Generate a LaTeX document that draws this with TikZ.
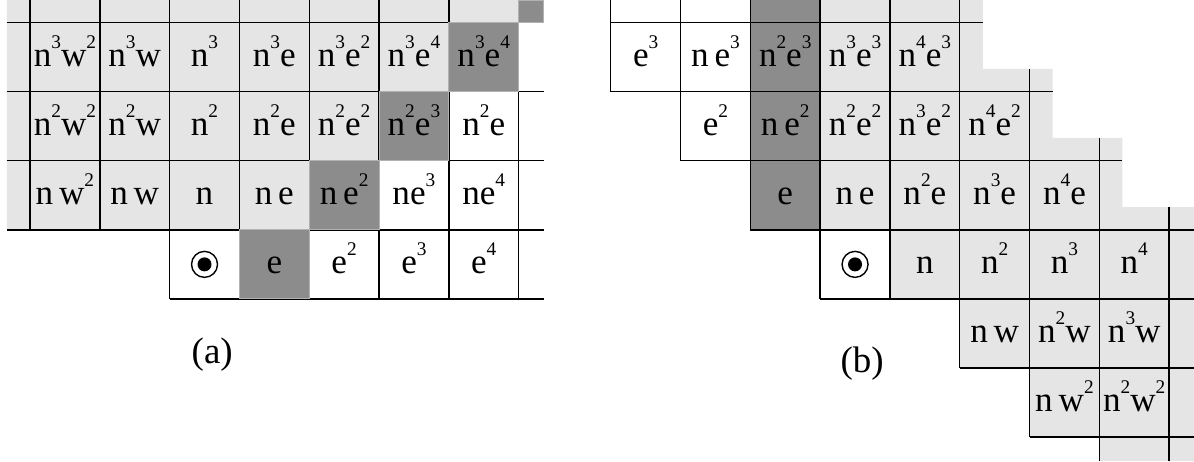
\documentclass[tikz,border=0pt]{standalone}
\usepackage{fontspec}
\setmainfont{Liberation Serif}
\definecolor{lightfill}{gray}{0.9}
\definecolor{darkfill}{gray}{0.55}
\newcommand{\expo}[1]{\raisebox{0.5em}{\fontsize{11}{11}\selectfont #1}}
\newcommand{\nexpo}[1]{n\expo{#1}}
\tikzset{
  gridline/.style={line width=0.8pt},
  lbl/.style={anchor=base, inner sep=0pt, font=\fontsize{20}{22}\selectfont},
  caption/.style={inner sep=0pt, font=\fontsize{21}{23}\selectfont},
  darkcell/.style={fill=darkfill, draw=black!30, line width=0.5pt},
  centremark/.style={circle, draw, line width=0.8pt, minimum size=0.52cm, inner sep=0pt, fill=white,
    path picture={\fill[black] (path picture bounding box.center) circle (0.14cm);}}
}
\begin{document}
\begin{tikzpicture}[x=1.396cm, y=1.382cm]
\useasboundingbox (-0.43,-0.346) rectangle (16.676,6.326);

\fill[lightfill] (-0.33,6.326) -- (7,6.326) -- (7,6) -- (6,6) -- (6,5) -- (5,5) -- (5,4) -- (4,4) -- (4,3) -- (-0.33,3) -- cycle;

\draw[gridline] (-0.33,6) -- (7.37,6);
\draw[gridline] (-0.33,5) -- (7.37,5);
\draw[gridline] (-0.33,4) -- (7.37,4);
\draw[gridline] (-0.33,3) -- (7.37,3);
\draw[gridline] (2,2) -- (7.37,2);
\draw[gridline] (0,3) -- (0,6.326);
\draw[gridline] (1,3) -- (1,6.326);
\draw[gridline] (2,2) -- (2,6.326);
\draw[gridline] (3,2) -- (3,6.326);
\draw[gridline] (4,2) -- (4,6.326);
\draw[gridline] (5,2) -- (5,6.326);
\draw[gridline] (6,2) -- (6,6.326);
\draw[gridline] (7,2) -- (7,6.326);

\draw[darkcell] (7,6) rectangle (7.35,6.326);
\draw[darkcell] (6,5) rectangle (7,6);
\draw[darkcell] (5,4) rectangle (6,5);
\draw[darkcell] (4,3) rectangle (5,4);
\draw[darkcell] (3,2) rectangle (4,3);

\node[lbl] (a11) at (0.5,5.37) {\nexpo{3}w\expo{2}};
\node[lbl] (a12) at (1.5,5.37) {\nexpo{3}w};
\node[lbl] (a13) at (2.5,5.37) {n\expo{3}};
\node[lbl] (a14) at (3.5,5.37) {\nexpo{3}e};
\node[lbl] (a15) at (4.5,5.37) {\nexpo{3}e\expo{2}};
\node[lbl] (a16) at (5.5,5.37) {\nexpo{3}e\expo{4}};
\node[lbl] (a17) at (6.5,5.37) {\nexpo{3}e\expo{4}};

\node[lbl] (a21) at (0.5,4.37) {\nexpo{2}w\expo{2}};
\node[lbl] (a22) at (1.5,4.37) {\nexpo{2}w};
\node[lbl] (a23) at (2.5,4.37) {n\expo{2}};
\node[lbl] (a24) at (3.5,4.37) {\nexpo{2}e};
\node[lbl] (a25) at (4.5,4.37) {\nexpo{2}e\expo{2}};
\node[lbl] (a26) at (5.5,4.37) {\nexpo{2}e\expo{3}};
\node[lbl] (a27) at (6.5,4.37) {\nexpo{2}e};

\node[lbl] (a31) at (0.5,3.37) {n\,w\expo{2}};
\node[lbl] (a32) at (1.5,3.37) {n\,w};
\node[lbl] (a33) at (2.5,3.37) {n};
\node[lbl] (a34) at (3.5,3.37) {n\,e};
\node[lbl] (a35) at (4.5,3.37) {n\,e\expo{2}};
\node[lbl] (a36) at (5.5,3.37) {ne\expo{3}};
\node[lbl] (a37) at (6.5,3.37) {ne\expo{4}};

\node[centremark] (a43) at (2.5,2.5) {};
\node[lbl] (a44) at (3.5,2.37) {e};
\node[lbl] (a45) at (4.5,2.37) {e\expo{2}};
\node[lbl] (a46) at (5.5,2.37) {e\expo{3}};
\node[lbl] (a47) at (6.5,2.37) {e\expo{4}};

\node[caption] (capa) at (2.61,1.19) {(a)};

\begin{scope}[shift={(8.32,0)}]
\fill[lightfill] (3,6.326) -- (5.33,6.326) -- (5.33,5.33) -- (6.33,5.33) -- (6.33,4.33) -- (7.33,4.33) -- (7.33,3.33) -- (8.36,3.33) -- (8.36,-0.346) -- (7,-0.346) -- (7,0) -- (6,0) -- (6,1) -- (5,1) -- (5,2) -- (4,2) -- (4,3) -- (3,3) -- cycle;
\fill[darkfill] (2,3) rectangle (3,6.326);

\draw[gridline] (0,6) -- (5.33,6);
\draw[gridline] (0,5) -- (6.33,5);
\draw[gridline] (1,4) -- (7.33,4);
\draw[gridline] (2,3) -- (8.36,3);
\draw[gridline] (3,2) -- (8.36,2);
\draw[gridline] (5,1) -- (8.36,1);
\draw[gridline] (6,0) -- (8.36,0);
\draw[gridline] (0,5) -- (0,6.326);
\draw[gridline] (1,4) -- (1,6.326);
\draw[gridline] (2,3) -- (2,6.326);
\draw[gridline] (3,2) -- (3,6.326);
\draw[gridline] (4,2) -- (4,6.326);
\draw[gridline] (5,1) -- (5,6.326);
\draw[gridline] (6,0) -- (6,5.33);
\draw[gridline] (7,-0.346) -- (7,4.33);
\draw[gridline] (8,-0.346) -- (8,3.33);

\node[lbl] (b10) at (0.5,5.37) {e\expo{3}};
\node[lbl] (b11) at (1.5,5.37) {n\,e\expo{3}};
\node[lbl] (b12) at (2.5,5.37) {\nexpo{2}e\expo{3}};
\node[lbl] (b13) at (3.5,5.37) {\nexpo{3}e\expo{3}};
\node[lbl] (b14) at (4.5,5.37) {\nexpo{4}e\expo{3}};

\node[lbl] (b21) at (1.5,4.37) {e\expo{2}};
\node[lbl] (b22) at (2.5,4.37) {n\,e\expo{2}};
\node[lbl] (b23) at (3.5,4.37) {\nexpo{2}e\expo{2}};
\node[lbl] (b24) at (4.5,4.37) {\nexpo{3}e\expo{2}};
\node[lbl] (b25) at (5.5,4.37) {\nexpo{4}e\expo{2}};

\node[lbl] (b32) at (2.5,3.37) {e};
\node[lbl] (b33) at (3.5,3.37) {n\,e};
\node[lbl] (b34) at (4.5,3.37) {\nexpo{2}e};
\node[lbl] (b35) at (5.5,3.37) {\nexpo{3}e};
\node[lbl] (b36) at (6.5,3.37) {\nexpo{4}e};

\node[centremark] (b43) at (3.5,2.5) {};
\node[lbl] (b44) at (4.5,2.37) {n};
\node[lbl] (b45) at (5.5,2.37) {n\expo{2}};
\node[lbl] (b46) at (6.5,2.37) {n\expo{3}};
\node[lbl] (b47) at (7.5,2.37) {n\expo{4}};

\node[lbl] (b55) at (5.5,1.37) {n\,w};
\node[lbl] (b56) at (6.5,1.37) {\nexpo{2}w};
\node[lbl] (b57) at (7.5,1.37) {\nexpo{3}w};

\node[lbl] (b66) at (6.5,0.37) {n\,w\expo{2}};
\node[lbl] (b67) at (7.5,0.37) {\nexpo{2}w\expo{2}};

\node[caption] (capb) at (3.6,1.06) {(b)};
\end{scope}
\end{tikzpicture}
\end{document}
